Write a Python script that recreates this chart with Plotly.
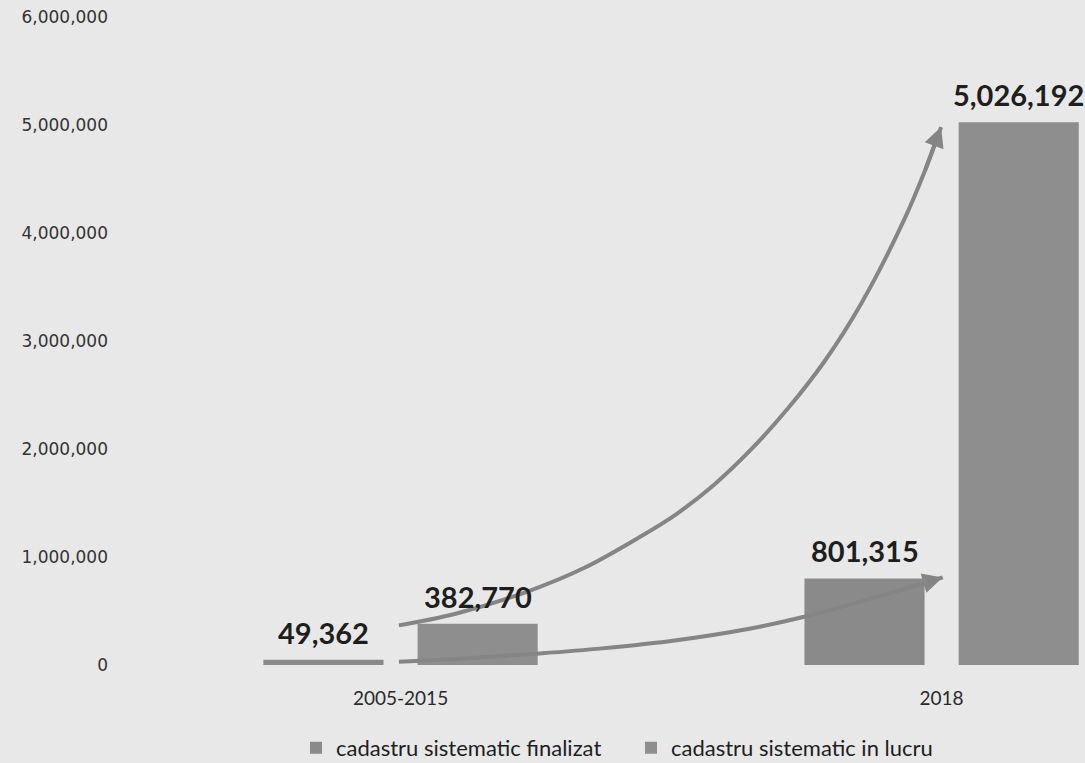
import plotly.graph_objects as go

# ---- data ----
categories = ["2005-2015", "2018"]
series_names = ["cadastru sistematic finalizat", "cadastru sistematic in lucru"]
finalizat = [49362, 801315]
in_lucru = [382770, 5026192]
y_ticks = [0, 1000000, 2000000, 3000000, 4000000, 5000000, 6000000]

# decorative growth arrows (in axis units: x = category index, y = value)
arrow_up_x = [-0.003, 0.100, 0.237, 0.339, 0.442, 0.510, 0.579, 0.647, 0.715, 0.784, 0.852, 0.928, 0.969, 0.999]
arrow_up_y = [367000, 472000, 685000, 898000, 1185000, 1398000, 1667000, 1991000, 2370000, 2815000,
              3352000, 4093000, 4574000, 4981000]
arrow_low_x = [-0.003, 0.100, 0.257, 0.373, 0.510, 0.647, 0.750, 0.852, 0.933, 1.002]
arrow_low_y = [31000, 56000, 107000, 154000, 229000, 338000, 451000, 590000, 708000, 811000]

# ---- style ----
BG = "#e8e8e8"
BAR_COLORS = ["#8a8a8a", "#8e8e8e"]
ARROW_COLOR = "#858585"
TEXT = "#1e1e1e"
BAR_W = 0.222
GAP = 0.063
offsets = [-(BAR_W + GAP / 2), GAP / 2]

xs = list(range(len(categories)))
fig = go.Figure()
for name, vals, off, col in zip(series_names, [finalizat, in_lucru], offsets, BAR_COLORS):
    fig.add_trace(go.Bar(
        x=xs, y=vals, name=name, width=BAR_W, offset=off,
        marker=dict(color=col, line=dict(width=0)),
        hoverinfo="skip",
    ))

for ax_x, ax_y in [(arrow_up_x, arrow_up_y), (arrow_low_x, arrow_low_y)]:
    fig.add_trace(go.Scatter(
        x=ax_x, y=ax_y, mode="lines",
        line=dict(color=ARROW_COLOR, width=4, shape="spline", smoothing=1.0),
        showlegend=False, hoverinfo="skip", cliponaxis=False,
    ))
    fig.add_annotation(
        x=ax_x[-1], y=ax_y[-1], ax=ax_x[-2], ay=ax_y[-2], xref="x", yref="y",
        axref="x", ayref="y", text="", showarrow=True, arrowhead=2, arrowsize=1.0,
        arrowwidth=4, arrowcolor=ARROW_COLOR, standoff=0,
    )

# value labels above bars
for vals, off in zip([finalizat, in_lucru], offsets):
    for i, v in enumerate(vals):
        fig.add_annotation(
            x=i + off + BAR_W / 2, y=v, xref="x", yref="y", text=f"{v:,}",
            showarrow=False, yanchor="bottom", yshift=8,
            font=dict(family="Lato", size=29, color=TEXT, weight="bold"),
        )

fig.update_layout(
    width=1085, height=763,
    margin=dict(l=130, r=0, t=17, b=98, autoexpand=False),
    paper_bgcolor=BG, plot_bgcolor=BG,
    barmode="overlay",
    showlegend=True,
    legend=dict(
        orientation="h", x=(296 - 130) / 955, xanchor="left", y=-0.128, yanchor="middle",
        font=dict(family="Lato", size=22, color=TEXT), bgcolor="rgba(0,0,0,0)",
        itemwidth=30, entrywidth=290,
    ),
    xaxis=dict(
        range=[-0.5, 1.265], tickvals=xs, ticktext=categories, showgrid=False,
        zeroline=False, showline=False, ticks="", ticklabelstandoff=20,
        tickfont=dict(family="Lato", size=19, color="#2a2a2a"),
    ),
    yaxis=dict(
        range=[0, 6000000], tickvals=y_ticks, tickformat=",d", showgrid=False,
        zeroline=False, showline=False, ticks="", ticklabelstandoff=21,
        tickfont=dict(family="DejaVu Sans", size=17, color="#333333"),
    ),
)

fig.write_html(
    "out.html",
    config={"displayModeBar": False},
    post_script="document.body.style.margin='0';document.body.style.background='#e8e8e8';",
)
